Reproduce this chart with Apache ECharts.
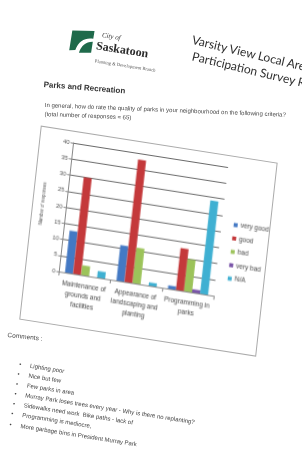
<!DOCTYPE html>
<html>
<head>
<meta charset="utf-8">
<script src="https://cdn.jsdelivr.net/npm/echarts@6/dist/echarts.min.js"></script>
<style>
  html, body { margin: 0; padding: 0; background: #fff; width: 302px; height: 451px; overflow: hidden; }
  #page { position: absolute; left: 0; top: 0; width: 302px; height: 451px; filter: blur(0.5px);
          font-family: "Liberation Sans", Arial, sans-serif; color: #3c3c3c; }
  .blk { position: absolute; left: 0; top: 0; transform-origin: 0 0; white-space: nowrap; }
  .abs { position: absolute; white-space: nowrap; }
  #box { width: 240px; height: 196px; border: 1px solid #ababab; box-sizing: border-box; background: #fff; }
  #chart { position: absolute; left: -1px; top: -1px; width: 240px; height: 196px; }
  #bullets div { height: 10.1px; line-height: 10.1px; font-size: 6px; position: relative; padding-left: 11px; }
  #bullets div::before { content: "\2022"; position: absolute; left: 0; top: 0; font-size: 6px; }
</style>
</head>
<body>
<div id="page">
  <!-- letterhead -->
  <div class="blk" style="left:70px;top:26px;transform:rotate(9deg);">
    <svg class="abs" style="left:0;top:0" width="26" height="26" viewBox="0 0 26 26">
      <path d="M3 4 L25 1 L25 9 C17 9 11 13 9 23 L3 24 Z" fill="#1f6a4b"/>
      <path d="M25 12 L25 23 L13 25 C14 18 18 13 25 12 Z" fill="#1f6a4b"/>
    </svg>
    <div class="abs" style="left:33px;top:0px;font:italic 7px 'Liberation Serif';color:#333;">City of</div>
    <div class="abs" style="left:29px;top:8px;font:bold 12px 'Liberation Serif';color:#2a2a2a;">Saskatoon</div>
    <div class="abs" style="left:30px;top:28px;font:4.6px 'Liberation Serif';color:#555;">Planning &amp; Development Branch</div>
  </div>
  <div class="blk" style="left:194px;top:32px;transform:rotate(13.5deg);font:12px Lato;line-height:16px;color:#2e2e2e;">
    Varsity View Local Area Plan<br><span style="padding-left:4px">Participation Survey Results</span>
  </div>

  <!-- section heading -->
  <div class="blk" style="left:44px;top:80px;transform:rotate(4.5deg);font:bold 8px 'Liberation Sans';color:#333;">Parks and Recreation</div>
  <div class="blk" style="left:45px;top:101px;transform:rotate(2.3deg);font-size:6px;line-height:8.5px;color:#444;">
    In general, how do rate the quality of parks in your neighbourhood on the following criteria?<br>(total number of responses = 65)
  </div>

  <!-- chart -->
  <div class="blk" id="box" style="transform:matrix(0.987,0.155,-0.11,0.99,40.8,125.5);">
    <div id="chart"></div>
  </div>

  <!-- comments -->
  <div class="blk" style="left:8px;top:331px;transform:rotate(6deg);font-size:6.5px;color:#444;">Comments :</div>
  <div class="blk" id="bullets" style="left:20px;top:359px;transform:rotate(9deg);color:#444;">
    <div>Lighting poor</div>
    <div>Nice but few</div>
    <div>Few parks in area</div>
    <div>Murray Park loses trees every year - Why is there no replanting?</div>
    <div>Sidewalks need work&nbsp; Bike paths - lack of</div>
    <div>Programming is mediocre,</div>
    <div>More garbage bins in President Murray Park</div>
  </div>
</div>

<script>
// values
var categories = ["Maintenance of\ngrounds and\nfacilities", "Appearance of\nlandscaping and\nplanting", "Programming in\nparks"];
var seriesNames = ["very good", "good", "bad", "very bad", "N/A"];
var veryGood = [13, 11, 1];
var good = [30, 38, 13];
var bad = [3, 11, 10];
var veryBad = [0, 0, 1];
var notApplicable = [2, 1, 29];
var colors = ["#4479c4", "#c4393b", "#9cc35a", "#7a55a8", "#3fb0d2"];

var values = [veryGood, good, bad, veryBad, notApplicable];

var myChart = echarts.init(document.getElementById("chart"));
myChart.setOption({
  animation: false,
  color: colors,
  grid: { left: 34, top: 12, width: 157, height: 130 },
  legend: {
    orient: "vertical",
    left: 198,
    top: 60,
    icon: "rect",
    itemWidth: 4,
    itemHeight: 4,
    itemGap: 6.5,
    textStyle: { fontSize: 6.5, color: "#444", padding: [0, 0, 0, -2] },
    data: seriesNames,
  },
  xAxis: {
    type: "category",
    data: categories,
    axisLine: { lineStyle: { color: "#888" } },
    axisTick: { show: true, length: 4, lineStyle: { color: "#888" } },
    axisLabel: { interval: 0, fontSize: 6.5, lineHeight: 10, color: "#444", margin: 6 },
  },
  yAxis: {
    type: "value",
    min: 0,
    max: 40,
    interval: 5,
    name: "Number of responses",
    nameLocation: "middle",
    nameGap: 13,
    nameTextStyle: { fontSize: 4.5, color: "#555" },
    axisLine: { show: true, lineStyle: { color: "#888" } },
    axisTick: { show: true, length: 3, lineStyle: { color: "#888" } },
    axisLabel: { fontSize: 6, color: "#555", margin: 4 },
    splitLine: { lineStyle: { color: "#6a6a6a", width: 1 } },
  },
  series: seriesNames.map(function (name, i) {
    return {
      name: name,
      type: "bar",
      barGap: "0%",
      barCategoryGap: "22%",
      data: values[i],
    };
  }),
});
</script>
</body>
</html>
